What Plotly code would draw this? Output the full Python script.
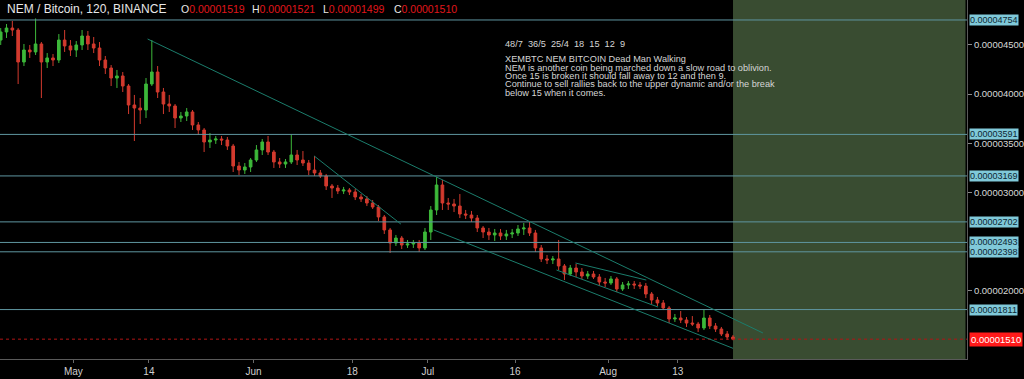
import pandas as pd
import plotly.graph_objects as go

# ---------------- data (prices in satoshi, 1e-8 BTC) ----------------
dates = pd.date_range("2018-04-18", "2018-08-22", freq="D")

opens = [
    # Apr 18-30
    4550, 4632, 4672, 4652, 4327, 4449, 4429, 4510, 4327, 4368, 4347, 4550, 4490,
    # May
    4449, 4500, 4591, 4510, 4469, 4347, 4266, 4164, 4185, 4083, 3890, 3859, 3839, 4103, 4225, 4022,
    3900, 3880, 3758, 3778, 3819, 3687, 3636, 3514, 3534, 3544, 3534, 3473, 3270, 3229, 3260,
    # Jun
    3331, 3433, 3514, 3412, 3311, 3290, 3311, 3382, 3331, 3300, 3229, 3199, 3168, 3067, 3046,
    3016, 3026, 3006, 2955, 2935, 2894, 2853, 2752, 2620, 2487, 2538, 2467, 2477, 2487, 2437,
    # Jul
    2599, 2823, 3077, 2894, 2884, 2863, 2782, 2772, 2741, 2640, 2599, 2569, 2589, 2559, 2579,
    2589, 2630, 2640, 2589, 2437, 2325, 2315, 2325, 2254, 2172, 2233, 2193, 2152, 2172, 2142, 2091,
    # Aug 1-22
    2081, 2122, 2020, 2061, 2071, 2061, 2050, 1969, 1908, 1878, 1827, 1715, 1725, 1705, 1674,
    1664, 1624, 1725, 1644, 1613, 1563, 1532,
]
highs = [
    4672, 4713, 4744, 4672, 4510, 4500, 4770, 4530, 4418, 4408, 4611, 4652, 4550,
    4540, 4652, 4642, 4581, 4530, 4388, 4296, 4246, 4225, 4103, 3992, 3961, 4164, 4550, 4286, 4063,
    3992, 3900, 3819, 3859, 3839, 3717, 3656, 3605, 3575, 3575, 3565, 3494, 3311, 3300, 3351,
    3483, 3544, 3575, 3433, 3351, 3341, 3591, 3433, 3422, 3331, 3372, 3229, 3189, 3087, 3077,
    3057, 3046, 3036, 2985, 2965, 2924, 2874, 2772, 2640, 2569, 2559, 2518, 2518, 2518, 2640,
    2863, 3160, 3128, 2945, 2935, 2985, 2823, 2813, 2772, 2660, 2640, 2630, 2630, 2620, 2630,
    2670, 2691, 2705, 2620, 2467, 2365, 2355, 2518, 2274, 2264, 2274, 2233, 2203, 2203, 2172, 2132,
    2152, 2142, 2091, 2101, 2101, 2091, 2081, 1989, 1939, 1908, 1847, 1766, 1796, 1735, 1745,
    1685, 1815, 1756, 1674, 1634, 1593, 1552,
]
lows = [
    4500, 4571, 4591, 4103, 4286, 4368, 4398, 3961, 4266, 4286, 4317, 4429, 4388,
    4378, 4449, 4449, 4418, 4286, 4205, 4083, 4063, 4022, 3798, 3524, 3697, 3758, 4083, 3961, 3798,
    3819, 3656, 3717, 3727, 3636, 3585, 3412, 3453, 3494, 3483, 3433, 3209, 3178, 3189, 3209,
    3311, 3382, 3382, 3250, 3250, 3250, 3290, 3280, 3270, 3178, 3168, 3148, 3026, 2945, 2985,
    2985, 2975, 2924, 2904, 2863, 2833, 2711, 2579, 2386, 2457, 2426, 2437, 2437, 2396, 2416,
    2518, 2772, 2823, 2823, 2802, 2741, 2731, 2701, 2599, 2538, 2518, 2508, 2518, 2518, 2538,
    2559, 2569, 2559, 2396, 2294, 2274, 2274, 2213, 2111, 2152, 2142, 2122, 2122, 2122, 2050, 2040,
    2061, 1989, 2000, 2020, 2020, 2020, 1928, 1867, 1847, 1806, 1674, 1685, 1674, 1634, 1644,
    1583, 1603, 1613, 1583, 1542, 1502, 1499,
]
closes = [
    4632, 4672, 4652, 4327, 4449, 4429, 4510, 4327, 4368, 4347, 4550, 4490, 4449,
    4500, 4591, 4510, 4469, 4347, 4266, 4164, 4185, 4083, 3890, 3859, 3839, 4103, 4225, 4022, 3900,
    3880, 3758, 3778, 3819, 3687, 3636, 3514, 3534, 3544, 3534, 3473, 3270, 3229, 3260, 3331,
    3433, 3514, 3412, 3311, 3290, 3311, 3382, 3331, 3300, 3229, 3199, 3168, 3067, 3046, 3016,
    3026, 3006, 2955, 2935, 2894, 2853, 2752, 2620, 2487, 2538, 2467, 2477, 2487, 2437, 2599,
    2823, 3077, 2894, 2884, 2863, 2782, 2772, 2741, 2640, 2599, 2569, 2589, 2559, 2579, 2589,
    2630, 2640, 2589, 2437, 2325, 2315, 2325, 2254, 2172, 2233, 2193, 2152, 2172, 2142, 2091, 2081,
    2122, 2020, 2061, 2071, 2061, 2050, 1969, 1908, 1878, 1827, 1715, 1725, 1705, 1674, 1664,
    1624, 1725, 1644, 1613, 1563, 1532, 1510,
]

levels = [4754, 3591, 3169, 2702, 2493, 2398, 1811]
last_price = 1510
yticks = [2000, 3000, 3500, 4000, 4500]
xtick_dates = ["2018-05-01", "2018-05-14", "2018-06-01", "2018-06-18",
               "2018-07-01", "2018-07-16", "2018-08-01", "2018-08-13"]
xtick_text = ["May", "14", "Jun", "18", "Jul", "16", "Aug", "13"]

header_title = "NEM / Bitcoin, 120, BINANCE"
ohlc_labels = ["O", "H", "L", "C"]
ohlc_values = ["0.00001519", "0.00001521", "0.00001499", "0.00001510"]

note_lines = [
    "48/7  36/5  25/4  18  15  12  9",
    "XEMBTC NEM BITCOIN Dead Man Walking",
    "NEM is another coin being marched down a slow road to oblivion.",
    "Once 15 is broken it should fall away to 12 and then 9.",
    "Continue to sell rallies back to the upper dynamic and/or the break",
    "below 15 when it comes.",
]

# trend lines drawn on the chart: (start date, start price, end date, end price)
trendlines = [
    ("2018-05-13 18:30", 4561, "2018-08-27 15:30", 1573),
    ("2018-06-11 10:20", 3372, "2018-06-26 08:20", 2680),
    ("2018-07-02 00:00", 2620, "2018-08-22 12:00", 1417),
    ("2018-07-26 09:20", 2284, "2018-08-07 14:00", 2111),
    ("2018-07-23 03:00", 2213, "2018-08-09 14:30", 1837),
]

SAT = 1e-8

# ---------------- styling ----------------
W, H = 1024, 379
PLOT_W, PLOT_H = 970, 359
GREEN = "#3db83a"
RED = "#d23a2e"
LEVEL_COL = "#5f96a0"
LABEL_BG = "#80c9d9"
TREND_COL = "#1b7d6c"
FONT = "Liberation Sans"


def px(x):
    return x / PLOT_W


def py(y):
    return 1 - y / PLOT_H


fig = go.Figure()
fig.add_trace(go.Candlestick(
    x=dates + pd.Timedelta(hours=12),
    open=[v * SAT for v in opens],
    high=[v * SAT for v in highs],
    low=[v * SAT for v in lows],
    close=[v * SAT for v in closes],
    increasing=dict(line=dict(color=GREEN, width=1), fillcolor=GREEN),
    decreasing=dict(line=dict(color=RED, width=1), fillcolor=RED),
    whiskerwidth=0,
    showlegend=False,
    hoverinfo="skip",
))

shapes = []
# green projection box
shapes.append(dict(type="rect", xref="x", yref="paper",
                   x0="2018-08-22 12:00", x1="2018-10-01 12:00", y0=0, y1=1,
                   fillcolor="#394c31", line=dict(width=0), layer="below"))
for lv in levels:
    shapes.append(dict(type="line", xref="paper", yref="y", x0=0, x1=1,
                       y0=lv * SAT, y1=lv * SAT,
                       line=dict(color=LEVEL_COL, width=1), layer="above"))
shapes.append(dict(type="line", xref="paper", yref="y", x0=0, x1=1,
                   y0=last_price * SAT, y1=last_price * SAT,
                   line=dict(color="#b01515", width=1, dash="dot"), layer="above"))
for d0, p0, d1, p1 in trendlines:
    shapes.append(dict(type="line", xref="x", yref="y", x0=d0, y0=p0 * SAT,
                       x1=d1, y1=p1 * SAT,
                       line=dict(color=TREND_COL, width=1), layer="above"))

annotations = []
for lv in levels:
    annotations.append(dict(xref="paper", yref="y", x=1, y=lv * SAT,
                            xanchor="left", yanchor="middle", xshift=2,
                            text=f"{lv * SAT:.8f}", showarrow=False,
                            bgcolor=LABEL_BG, borderpad=0,
                            font=dict(family=FONT, size=9, color="#0c2733")))
annotations.append(dict(xref="paper", yref="y", x=1, y=last_price * SAT,
                        xanchor="left", yanchor="middle", xshift=2,
                        text=f"{last_price * SAT:.8f}", showarrow=False,
                        bgcolor="#ff1a1a", borderpad=1,
                        font=dict(family=FONT, size=9.5, color="#ffffff")))

# header
annotations.append(dict(xref="paper", yref="paper", x=px(5), y=py(9),
                        xanchor="left", yanchor="middle", showarrow=False,
                        text=header_title,
                        font=dict(family=FONT, size=12, color="#e8e8e8")))
ohlc_x = [180, 251, 322, 393]
for lab, val, xx in zip(ohlc_labels, ohlc_values, ohlc_x):
    annotations.append(dict(xref="paper", yref="paper", x=px(xx), y=py(9),
                            xanchor="left", yanchor="middle", showarrow=False,
                            text=f"<span style='color:#e8e8e8'>{lab}</span>"
                                 f"<span style='color:#e0161b'>{val}</span>",
                            font=dict(family=FONT, size=10.5)))

# note text block
note_y = [44.3, 59.5, 67.8, 76.1, 84.4, 92.7]
for line, yy in zip(note_lines, note_y):
    annotations.append(dict(xref="paper", yref="paper", x=px(505), y=py(yy),
                            xanchor="left", yanchor="middle", showarrow=False,
                            text=line,
                            font=dict(family=FONT, size=9.2, color="#d6d6d6")))

fig.update_layout(
    width=W, height=H,
    margin=dict(l=0, r=W - PLOT_W, t=0, b=H - PLOT_H),
    paper_bgcolor="#000000", plot_bgcolor="#000000",
    shapes=shapes, annotations=annotations,
    boxgap=0.35,
    showlegend=False,
    xaxis=dict(
        type="date",
        range=["2018-04-18 09:05", "2018-10-01 18:15"],
        rangeslider=dict(visible=False),
        showgrid=False, zeroline=False,
        tickvals=xtick_dates, ticktext=xtick_text,
        ticks="outside", ticklen=3, tickcolor="#6a6a6a",
        tickfont=dict(family=FONT, size=10, color="#cfcfcf"),
        showline=True, linecolor="#5a5a5a", linewidth=1,
        fixedrange=True,
    ),
    yaxis=dict(
        side="right",
        range=[1308.5 * SAT, 4957 * SAT],
        showgrid=False, zeroline=False,
        tickvals=[v * SAT for v in yticks], tickformat=".8f",
        ticks="outside", ticklen=4, tickcolor="#8a8a8a",
        tickfont=dict(family=FONT, size=9.5, color="#d8d8d8"),
        showline=True, linecolor="#5a5a5a", linewidth=1,
        fixedrange=True,
    ),
)

fig.write_html(
    "out.html",
    config={"displayModeBar": False},
    post_script="document.body.style.margin='0';document.body.style.background='#000';",
)
